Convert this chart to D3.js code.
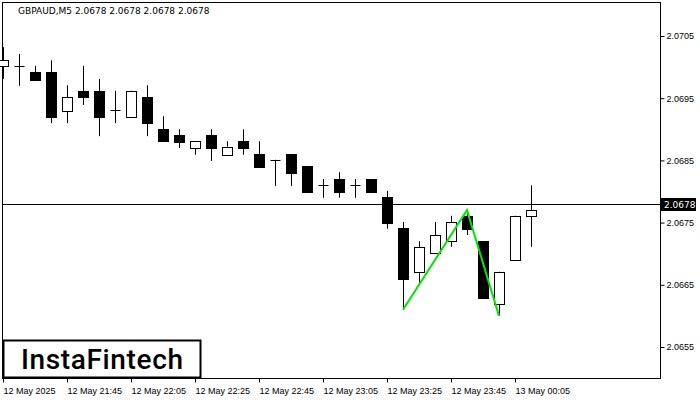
<!DOCTYPE html><html><head><script src="https://cdn.jsdelivr.net/npm/d3@7"></script>
<style>body{margin:0;background:#fff}svg{font-family:"DejaVu Sans",sans-serif}</style></head><body>
<svg id="c" width="700" height="400"></svg>
<script>
const opens =[2.07002,2.07002,2.06992,2.06992,2.06929,2.06962,2.06962,2.06931,2.06920,2.06952,2.06900,2.06891,2.06870,2.06891,2.06859,2.06881,2.06860,2.06851,2.06860,2.06841,2.06810,2.06820,2.06810,2.06820,2.06791,2.06741,2.06671,2.06701,2.06720,2.06761,2.06720,2.06619,2.06690,2.06761];
const closes=[2.07011,2.07002,2.06979,2.06920,2.06952,2.06952,2.06920,2.06931,2.06962,2.06910,2.06880,2.06880,2.06881,2.06870,2.06872,2.06870,2.06839,2.06851,2.06830,2.06799,2.06810,2.06799,2.06810,2.06799,2.06749,2.06659,2.06711,2.06730,2.06751,2.06740,2.06629,2.06671,2.06761,2.06770];
const highs =[2.07032,2.07021,2.07002,2.07011,2.06971,2.07002,2.06981,2.06962,2.06962,2.06971,2.06921,2.06900,2.06881,2.06900,2.06881,2.06900,2.06881,2.06851,2.06860,2.06841,2.06820,2.06831,2.06820,2.06820,2.06801,2.06751,2.06720,2.06751,2.06761,2.06770,2.06720,2.06671,2.06761,2.06810];
const lows  =[2.06981,2.06970,2.06979,2.06910,2.06910,2.06939,2.06889,2.06910,2.06920,2.06889,2.06880,2.06870,2.06859,2.06849,2.06872,2.06859,2.06839,2.06809,2.06809,2.06799,2.06790,2.06790,2.06790,2.06799,2.06740,2.06610,2.06653,2.06730,2.06711,2.06730,2.06629,2.06601,2.06690,2.06711];
const priceTicks=[2.0655,2.0665,2.0675,2.0685,2.0695,2.0705];
const timeLabels=["12 May 2025","12 May 21:45","12 May 22:05","12 May 22:25","12 May 22:45","12 May 23:05","12 May 23:25","12 May 23:45","13 May 00:05"];
const patternIdx=[25,29,31];
const patternPx=[2.06610,2.06770,2.06600];
const current=2.0678;

const svg=d3.select("#c");
const x=d3.scaleLinear().domain([0,1]).range([3,19]);
const y=d3.scaleLinear().domain([2.0705,2.0655]).range([36,347]);
svg.append("rect").attr("x",2.5).attr("y",2.5).attr("width",658).attr("height",376).attr("fill","none").attr("stroke","#000");
const ra=svg.append("g").attr("transform","translate(660.5,0)").call(d3.axisRight(y).tickValues(priceTicks).tickFormat(d3.format(".4f")).tickSize(4));
ra.select(".domain").remove();
ra.selectAll("text").attr("font-size",9).attr("fill","#000").attr("x",6);
const bi=timeLabels.map((d,i)=>i*4);
const ba=svg.append("g").attr("transform","translate(0,378.5)").call(d3.axisBottom(x).tickValues(bi).tickFormat((d,i)=>timeLabels[i]).tickSize(4));
ba.select(".domain").remove();
ba.selectAll("text").attr("font-size",9).attr("fill","#000").attr("text-anchor","start").attr("x",0).attr("dy","0.9em");
svg.append("line").attr("x1",2).attr("x2",660).attr("y1",Math.round(y(current))+0.5).attr("y2",Math.round(y(current))+0.5).attr("stroke","#000");
const cg=svg.append("g");
opens.forEach((o,i)=>{
  const c=closes[i],cx=Math.round(x(i))+0.5;
  cg.append("line").attr("x1",cx).attr("x2",cx).attr("y1",y(highs[i])).attr("y2",y(lows[i])).attr("stroke","#000");
  const t=Math.min(y(o),y(c)),h=Math.abs(y(o)-y(c));
  if(h<1.5){cg.append("line").attr("x1",cx-5).attr("x2",cx+5).attr("y1",Math.round(y(c))+0.5).attr("y2",Math.round(y(c))+0.5).attr("stroke","#000");}
  else cg.append("rect").attr("x",cx-5).attr("y",Math.round(t)+0.5).attr("width",10).attr("height",Math.round(h)).attr("fill",c>o?"#fff":"#000").attr("stroke","#000");
});
svg.append("path").attr("d",d3.line().x(d=>x(d[0])).y(d=>y(d[1]))(patternIdx.map((d,i)=>[d,patternPx[i]]))).attr("fill","none").attr("stroke","#00e600").attr("stroke-width",2);
svg.append("rect").attr("x",661).attr("y",Math.round(y(current))-6).attr("width",35).attr("height",13).attr("fill","#000");
svg.append("text").attr("x",664).attr("y",Math.round(y(current))+4).attr("font-size",9).attr("fill","#fff").text("2.0678");
svg.append("text").attr("x",18).attr("y",14).attr("font-size",9).text("GBPAUD,M5  2.0678 2.0678 2.0678 2.0678");
svg.append("rect").attr("x",3.5).attr("y",340.5).attr("width",197).attr("height",37).attr("fill","#fff").attr("stroke","#000").attr("stroke-width",2);
svg.append("text").attr("x",102).attr("y",369).attr("text-anchor","middle").attr("font-size",28).attr("font-weight",500).attr("font-family","Roboto, sans-serif").attr("textLength",162).text("InstaFintech");
</script></body></html>
